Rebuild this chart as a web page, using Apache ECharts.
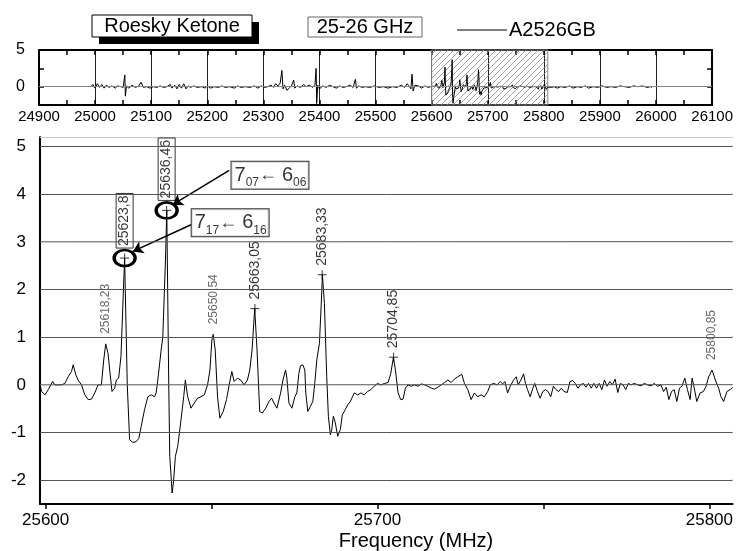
<!DOCTYPE html>
<html>
<head>
<meta charset="utf-8">
<script src="https://cdn.jsdelivr.net/npm/echarts@6/dist/echarts.min.js"></script>
<style>
html, body { margin: 0; padding: 0; background: #fff; }
#main { width: 736px; height: 551px; }
</style>
</head>
<body>
<div id="main"></div>
<script>
// 主谱 (25598 - 25807 MHz)
var mainFreq = [
  25598.3, 25598.8, 25599.8, 25600.8, 25602.1, 25602.8, 25603.8, 25604.8, 25605.8, 25606.8,
  25607.8, 25608.3, 25609.1, 25609.8, 25610.8, 25611.8, 25612.8, 25613.8, 25614.8, 25615.8,
  25616.8, 25617.5, 25618.1, 25618.8, 25619.3, 25620.0, 25620.8, 25621.3, 25622.0, 25622.7,
  25623.8, 25624.6, 25625.3, 25626.3, 25627.3, 25628.1, 25628.8, 25629.8, 25630.8, 25631.8,
  25632.8, 25633.3, 25633.8, 25634.8, 25635.3, 25636.1, 25636.5, 25637.1, 25637.4, 25637.8,
  25638.1, 25638.5, 25639.1, 25639.8, 25640.8, 25641.6, 25642.1, 25642.8, 25643.8, 25644.8,
  25645.8, 25646.8, 25647.8, 25648.8, 25649.5, 25650.1, 25650.5, 25651.1, 25651.8, 25652.5,
  25653.5, 25654.5, 25655.3, 25656.1, 25656.8, 25657.8, 25658.8, 25659.8, 25660.8, 25661.5,
  25662.2, 25663.0, 25663.7, 25664.5, 25665.3, 25666.3, 25667.3, 25668.1, 25668.8, 25669.7,
  25670.8, 25671.5, 25672.3, 25672.7, 25673.3, 25674.2, 25675.1, 25675.7, 25676.3, 25676.8,
  25677.5, 25678.1, 25678.4, 25679.0, 25679.8, 25680.5, 25681.1, 25681.7, 25682.5, 25683.1,
  25683.4, 25684.0, 25684.7, 25685.2, 25685.8, 25686.2, 25686.7, 25687.3, 25688.0, 25688.8,
  25689.4, 25690.3, 25691.0, 25691.8, 25692.4, 25693.0, 25694.0, 25695.0, 25696.0, 25697.0,
  25698.0, 25699.0, 25700.0, 25701.0, 25702.2, 25703.2, 25704.0, 25704.8, 25705.4, 25706.2,
  25707.0, 25707.7, 25708.4, 25709.2, 25710.2, 25711.2, 25712.2, 25713.2, 25714.2, 25715.2,
  25716.2, 25717.2, 25718.2, 25719.2, 25720.2, 25721.2, 25722.2, 25723.2, 25724.2, 25725.4,
  25726.2, 25727.2, 25728.2, 25729.2, 25730.2, 25731.2, 25732.2, 25733.2, 25734.0, 25735.0,
  25736.0, 25737.0, 25737.7, 25738.4, 25739.2, 25740.0, 25741.0, 25741.8, 25742.4, 25743.2,
  25744.0, 25744.6, 25745.2, 25746.0, 25746.8, 25747.4, 25748.2, 25749.0, 25749.8, 25750.6,
  25751.4, 25752.2, 25753.0, 25753.8, 25754.6, 25755.4, 25756.2, 25757.2, 25758.0, 25758.8,
  25759.6, 25760.4, 25761.2, 25762.0, 25762.8, 25763.6, 25764.4, 25765.2, 25766.0, 25766.8,
  25767.6, 25768.4, 25769.2, 25770.0, 25770.8, 25771.6, 25772.4, 25773.2, 25774.0, 25774.8,
  25775.6, 25776.4, 25777.4, 25778.4, 25779.4, 25780.4, 25781.4, 25782.4, 25783.4, 25784.4,
  25785.4, 25786.2, 25787.0, 25787.8, 25788.6, 25789.4, 25790.2, 25791.0, 25791.8, 25792.6,
  25793.4, 25794.2, 25794.8, 25795.4, 25796.2, 25797.2, 25798.2, 25799.0, 25799.8, 25800.8,
  25801.8, 25802.8, 25803.5, 25804.3, 25805.3, 25806.3, 25807.0
];
var mainInt = [
  0, -0.14, -0.21, -0.1, 0.07, 0, 0, 0, 0.03, 0.17,
  0.28, 0.42, 0.21, 0.1, 0, -0.21, -0.31, -0.3, -0.17, 0,
  0, 0.52, 0.86, 0.66, 0.31, -0.14, -0.07, 0.1, 0.14, 0.6,
  2.66, 0, -1.15, -1.21, -1.19, -1.12, -0.87, -0.52, -0.25, -0.21,
  -0.25, -0.17, 0.1, 0.73, 1.0, 2.6, 3.66, 0, -1.5, -1.92,
  -2.27, -2.06, -1.5, -1.29, -0.73, -0.25, 0.1, -0.25, -0.49, -0.38,
  -0.28, -0.25, -0.21, 0, 0.31, 0.94, 1.06, 0.73, -0.25, -0.7,
  -0.56, -0.31, 0, 0.28, 0.07, 0.14, 0.1, 0, 0.1, 0.31,
  0.73, 1.6, 0.73, -0.56, -0.59, -0.49, -0.35, -0.28, -0.38, -0.49,
  -0.17, 0.1, 0.31, 0.14, -0.38, -0.49, -0.25, -0.17, 0.24, 0.4,
  0.42, 0.31, -0.17, -0.56, -0.45, -0.35, 0.03, 0.52, 0.87, 1.78,
  2.31, 1.71, 0.17, -0.66, -1.05, -0.94, -0.66, -0.8, -1.08, -0.94,
  -0.63, -0.52, -0.42, -0.35, -0.38, -0.17, -0.21, -0.17, -0.21, -0.14,
  -0.1, -0.03, 0.03, 0, 0.03, 0.05, 0.24, 0.58, 0.31, -0.17,
  -0.31, -0.3, -0.07, 0, -0.03, 0, -0.03, 0.02, 0, -0.03,
  -0.07, -0.09, -0.05, 0, 0.05, 0.1, 0.05, 0.12, 0.17, 0.22,
  0.03, -0.1, -0.31, -0.17, -0.25, -0.21, -0.25, -0.14, 0, 0.03,
  0, 0.07, 0.02, 0.07, -0.17, -0.03, 0.1, 0.17, 0, 0.1,
  0.23, 0.03, -0.1, -0.25, -0.07, 0.03, -0.14, -0.28, -0.14, -0.1,
  -0.14, -0.25, -0.03, -0.1, -0.14, -0.07, -0.14, -0.16, 0.07, 0.09,
  0.03, -0.07, 0, 0.03, -0.05, 0.03, -0.07, 0.03, -0.07, 0.03,
  -0.1, 0.1, -0.03, 0.07, 0, 0.12, -0.16, 0.03, 0, -0.1,
  0.03, 0, 0.03, 0, -0.02, 0.03, 0, -0.02, 0.03, -0.03,
  0, -0.14, -0.05, -0.31, -0.14, -0.1, -0.35, -0.07, -0.02, 0.14,
  -0.1, -0.31, 0.14, -0.05, -0.35, -0.17, -0.14, -0.03, 0.17, 0.31,
  0.1, -0.07, -0.25, -0.35, -0.14, -0.1, -0.05
];

// 总览谱：主谱左右两段
var overviewLeftFreq = [
  24993, 24996, 25000, 25004, 25008, 25012, 25016, 25020, 25025, 25030,
  25036, 25040, 25046, 25050, 25053, 25054, 25056, 25060, 25066, 25072,
  25078, 25082, 25086, 25092, 25098, 25104, 25110, 25116, 25122, 25128,
  25134, 25137, 25142, 25146, 25150, 25154, 25158, 25162, 25166, 25170,
  25176, 25182, 25190, 25196, 25200, 25206, 25212, 25220, 25226, 25232,
  25240, 25248, 25254, 25260, 25268, 25276, 25284, 25290, 25296, 25302,
  25308, 25314, 25318, 25322, 25326, 25330, 25333, 25335, 25338, 25342,
  25346, 25350, 25354, 25356, 25360, 25366, 25372, 25376, 25382, 25388,
  25392, 25394, 25395, 25397, 25400, 25406, 25412, 25418, 25424, 25430,
  25436, 25442, 25448, 25454, 25460, 25464, 25466, 25470, 25476, 25482,
  25490, 25498, 25506, 25514, 25522, 25530, 25538, 25546, 25552, 25556,
  25560, 25563, 25565, 25567, 25570, 25576, 25582, 25588, 25594
];
var overviewLeftInt = [
  0, 0.3, -0.2, 0.4, -0.1, 0.3, -0.2, 0.2, -0.1, 0.1,
  -0.2, 0.1, 0, -0.1, 1.6, -1.3, 0.1, -0.2, 0.2, -0.1,
  0.1, 0.6, -0.1, 0, -0.2, 0, -0.1, 0.1, -0.1, 0,
  0.3, -0.2, 0.2, -0.3, 0.3, -0.2, 0.4, -0.3, 0.1, -0.1,
  0.1, -0.1, 0, -0.2, 0.1, -0.2, 0, -0.1, 0.1, -0.1,
  0, -0.2, 0.1, -0.1, 0, -0.1, 0.1, -0.2, 0.1, -0.1,
  0, 0.2, -0.1, 0.4, 0.1, 0.5, 2.2, -0.3, 0.2, -0.5,
  -0.2, 0.1, 0.9, -0.2, 0.1, -0.1, 0.3, 0, 0.2, -0.1,
  0.3, 2.5, -2.3, 0.2, -0.3, 0.1, -0.1, 0.2, 0, -0.2,
  0.1, -0.1, 0, 0.2, -0.1, 1.0, -0.2, 0.1, -0.1, 0,
  -0.1, 0.1, -0.1, 0, -0.2, 0, -0.1, 0.2, -0.1, 0.4,
  0.1, -0.3, 1.7, -0.6, 0.2, 0.1, -0.2, 0.1, -0.1
];
var overviewRightFreq = [
  25810, 25814, 25818, 25824, 25830, 25838, 25846, 25852, 25860, 25866,
  25874, 25880, 25888, 25896, 25904, 25912, 25920, 25928, 25936, 25944,
  25952, 25960, 25968, 25976, 25984, 25990, 25993
];
var overviewRightInt = [
  0.2, -0.1, 0, -0.2, 0, -0.1, 0.1, -0.2, 0, -0.1,
  0.1, -0.2, 0, -0.1, 0.1, -0.1, 0, -0.1, 0.1, 0,
  -0.1, 0.1, 0, 0.1, -0.1, 0, -0.1
];

// 峰位标注
var peakFreq = [25618.23, 25623.8, 25636.46, 25650.54, 25663.05, 25683.33, 25704.85, 25800.85];
var peakInt = [0.86, 2.66, 3.66, 1.06, 1.6, 2.31, 0.58, 0.31];
var peakText = ['25618,23', '25623,8', '25636,46', '25650,54', '25663,05', '25683,33', '25704,85', '25800,85'];
var peakMarked = [false, true, true, false, true, true, true, false];
var assignedFreq = [25636.46, 25623.8];
var assignedInt = [3.66, 2.66];
var assignedLabel = [['07', '06'], ['17', '16']];

// 坐标刻度
var overviewYLabels = [0, 5];
var mainXLabels = [25600, 25700, 25800];
var mainXTicks = [25600, 25650, 25700, 25750, 25800];
var mainYLabels = [-2, -1, 0, 1, 2, 3, 4, 5];
var mainXMin = 25598.3, mainXMax = 25807;

var FONT = 'Liberation Sans';
var chart = echarts.init(document.getElementById('main'));

// 斜线填充
var hatch = document.createElement('canvas');
hatch.width = 6;
hatch.height = 6;
var hctx = hatch.getContext('2d');
hctx.strokeStyle = '#8a8a8a';
hctx.lineWidth = 0.8;
hctx.beginPath();
hctx.moveTo(0, 6); hctx.lineTo(6, 0);
hctx.moveTo(-1, 1); hctx.lineTo(1, -1);
hctx.moveTo(5, 7); hctx.lineTo(7, 5);
hctx.stroke();

var overviewData = [];
overviewLeftFreq.forEach(function (f, i) { overviewData.push([f, overviewLeftInt[i]]); });
mainFreq.forEach(function (f, i) { overviewData.push([f, mainInt[i]]); });
overviewRightFreq.forEach(function (f, i) { overviewData.push([f, overviewRightInt[i]]); });

var mainData = mainFreq.map(function (f, i) { return [f, mainInt[i]]; });

var peakData = peakFreq.map(function (f, i) {
  var boxed = assignedFreq.indexOf(f) >= 0;
  return {
    value: [f, peakInt[i]],
    symbolSize: peakMarked[i] ? 9 : 0,
    label: {
      show: true,
      formatter: peakText[i],
      position: 'top',
      rotate: 90,
      align: 'left',
      verticalAlign: 'middle',
      distance: boxed ? 5 : (peakMarked[i] ? 4 : 10),
      fontFamily: FONT,
      fontSize: peakMarked[i] ? 14 : 12,
      color: peakMarked[i] ? '#000' : '#444',
      borderColor: boxed ? '#000' : 'transparent',
      borderWidth: boxed ? 1 : 0,
      padding: boxed ? [2, 2, 1, 2] : 0
    }
  };
});

var transitionPos = [[25667.6, 4.40], [25655.6, 3.40]];
var transData = transitionPos.map(function (p, i) {
  return {
    value: p,
    label: {
      formatter: '{b|7}{s|' + assignedLabel[i][0] + '}{a|← }{b|6}{s|' + assignedLabel[i][1] + '}'
    }
  };
});

// 箭头 + 水平网格线（同一个 markLine；网格线右端抬高极小量，避免零高度包围盒）
var arrowLines = [
  [{ coord: [25655.3, 4.50] }, { coord: [25638.3, 3.78] }],
  [{ coord: [25643.8, 3.36] }, { coord: [25626.3, 2.80] }]
];
var gridLines = mainYLabels.map(function (v) {
  return [
    { coord: [mainXMin + 0.1, v], symbol: 'circle', symbolSize: 1, lineStyle: { color: '#555', width: 1, type: 'solid' } },
    { coord: [mainXMax - 0.1, v + 0.004], symbol: 'circle', symbolSize: 1 }
  ];
});

var plain = function (v) { return String(v); };
var lineStyleBlack = { color: '#000', width: 2 };
var tickStyle = { color: '#000', width: 1.5 };

chart.setOption({
  animation: false,
  backgroundColor: '#fff',
  textStyle: { fontFamily: FONT },
  legend: {
    data: ['A2526GB'],
    left: 452,
    top: 15,
    icon: 'rect',
    itemWidth: 50,
    itemHeight: 1,
    textStyle: { fontSize: 20, fontFamily: FONT, color: '#000', padding: [0, 0, 0, -3] }
  },
  grid: [
    { left: 39, right: 14, top: 50, height: 55 },
    { left: 40, right: 0, top: 137, bottom: 47 }
  ],
  xAxis: [
    {
      gridIndex: 0, type: 'value', min: 24900, max: 26100, interval: 100,
      axisLine: { onZero: false, lineStyle: lineStyleBlack },
      axisTick: { inside: true, length: 5, lineStyle: tickStyle },
      minorTick: { show: true, splitNumber: 2, length: 5, lineStyle: tickStyle },
      axisLabel: { fontSize: 15, color: '#000', margin: 4, fontFamily: FONT, formatter: plain },
      splitLine: { show: true, lineStyle: { color: '#222', width: 1 } }
    },
    {
      gridIndex: 0, type: 'value', position: 'top', min: 24900, max: 26100, interval: 100,
      axisLine: { onZero: false, lineStyle: lineStyleBlack },
      axisTick: { inside: true, length: 5, lineStyle: tickStyle },
      minorTick: { show: true, splitNumber: 2, length: 5, lineStyle: tickStyle },
      axisLabel: { show: false },
      splitLine: { show: false }
    },
    {
      gridIndex: 1, type: 'value', min: mainXMin, max: mainXMax,
      axisLine: { onZero: false, lineStyle: lineStyleBlack },
      axisTick: { customValues: mainXTicks, length: 5, lineStyle: tickStyle },
      axisLabel: { customValues: mainXLabels, fontSize: 17, color: '#000', margin: 8, fontFamily: FONT, formatter: plain },
      splitLine: { show: false }
    },
    {
      gridIndex: 1, type: 'value', position: 'top', min: mainXMin, max: mainXMax,
      axisLine: { onZero: false, lineStyle: { color: '#c8c8c8', width: 1 } },
      axisTick: { show: false },
      axisLabel: { show: false },
      splitLine: { show: false }
    }
  ],
  yAxis: [
    {
      gridIndex: 0, type: 'value', min: -2.5, max: 5, interval: 2.5,
      axisLine: { show: true, onZero: false, lineStyle: lineStyleBlack },
      axisTick: { inside: true, length: 5, lineStyle: tickStyle },
      axisLabel: {
        fontSize: 16, color: '#000', margin: 14, fontFamily: FONT,
        formatter: function (v) { return overviewYLabels.indexOf(v) >= 0 ? String(v) : ''; }
      },
      splitLine: { show: false }
    },
    {
      gridIndex: 0, type: 'value', position: 'right', min: -2.5, max: 5, interval: 2.5,
      axisLine: { show: true, onZero: false, lineStyle: lineStyleBlack },
      axisTick: { inside: true, length: 5, lineStyle: tickStyle },
      axisLabel: { show: false },
      splitLine: { show: false }
    },
    {
      gridIndex: 1, type: 'value', min: -2.5, max: 5.2,
      axisLine: { show: true, onZero: false, lineStyle: lineStyleBlack },
      axisTick: { show: false },
      axisLabel: { customValues: mainYLabels, fontSize: 17, color: '#000', margin: 14, fontFamily: FONT, formatter: plain },
      splitLine: { show: false }
    }
  ],
  series: [
    {
      name: 'A2526GB', type: 'line', xAxisIndex: 0, yAxisIndex: 0,
      data: overviewData, showSymbol: false, symbol: 'none',
      lineStyle: { color: '#000', width: 1 }, itemStyle: { color: '#000' },
      markArea: {
        silent: true,
        itemStyle: { color: { image: hatch, repeat: 'repeat' }, borderColor: '#888', borderWidth: 1 },
        data: [[{ xAxis: 25600 }, { xAxis: 25807 }]]
      },
      markLine: {
        silent: true, symbol: 'none', label: { show: false },
        lineStyle: { color: '#888', width: 1, type: 'solid' },
        data: [{ yAxis: 0 }]
      },
      z: 3
    },
    {
      name: 'A2526GB', type: 'line', xAxisIndex: 2, yAxisIndex: 2,
      data: mainData, showSymbol: false, symbol: 'none',
      lineStyle: { color: '#000', width: 1 }, itemStyle: { color: '#000' },
      clip: true, z: 3
    },
    {
      name: 'peaks', type: 'scatter', xAxisIndex: 2, yAxisIndex: 2,
      symbol: 'path://M0,5L10,5M5,0L5,10',
      itemStyle: { color: 'rgba(0,0,0,0)', borderColor: '#000', borderWidth: 1 },
      data: peakData, z: 4
    },
    {
      name: 'assigned', type: 'scatter', xAxisIndex: 2, yAxisIndex: 2,
      symbol: 'circle', symbolSize: [21, 16],
      itemStyle: { color: 'rgba(0,0,0,0)', borderColor: '#000', borderWidth: 3, opacity: 1 },
      data: assignedFreq.map(function (f, i) { return [f, assignedInt[i]]; }),
      markLine: {
        silent: true,
        symbol: ['none', 'arrow'],
        symbolSize: 10,
        label: { show: false },
        lineStyle: { color: '#000', width: 1.5, type: 'solid' },
        data: arrowLines.concat(gridLines)
      },
      z: 5
    },
    {
      name: 'transitions', type: 'scatter', xAxisIndex: 2, yAxisIndex: 2,
      symbolSize: 0,
      data: transData,
      label: {
        show: true,
        position: 'inside',
        backgroundColor: '#fff',
        borderColor: '#000',
        borderWidth: 1,
        padding: [0, 2, 0, 3],
        rich: {
          b: { fontSize: 20, fontFamily: FONT, color: '#000', lineHeight: 27 },
          s: { fontSize: 12, fontFamily: FONT, color: '#000', verticalAlign: 'bottom' },
          a: { fontSize: 18, fontFamily: FONT, color: '#000', lineHeight: 27 }
        }
      },
      z: 6
    }
  ],
  graphic: [
    { type: 'rect', shape: { x: 99, y: 22, width: 160, height: 22 }, style: { fill: '#000' }, z: 10 },
    { type: 'rect', shape: { x: 92, y: 15, width: 160, height: 22 }, style: { fill: '#fff', stroke: '#000', lineWidth: 1 }, z: 11 },
    { type: 'text', x: 172, y: 26, style: { text: 'Roesky Ketone', font: '20px "Liberation Sans"', fill: '#000', align: 'center', verticalAlign: 'middle' }, z: 12 },
    { type: 'rect', shape: { x: 308, y: 17, width: 114, height: 20 }, style: { fill: '#fff', stroke: '#666', lineWidth: 1 }, z: 11 },
    { type: 'text', x: 365, y: 27, style: { text: '25-26 GHz', font: '20px "Liberation Sans"', fill: '#000', align: 'center', verticalAlign: 'middle' }, z: 12 },
    { type: 'text', x: 416, y: 541, style: { text: 'Frequency (MHz)', font: '20px "Liberation Sans"', fill: '#000', align: 'center', verticalAlign: 'middle' }, z: 12 }
  ]
});
</script>
</body>
</html>
